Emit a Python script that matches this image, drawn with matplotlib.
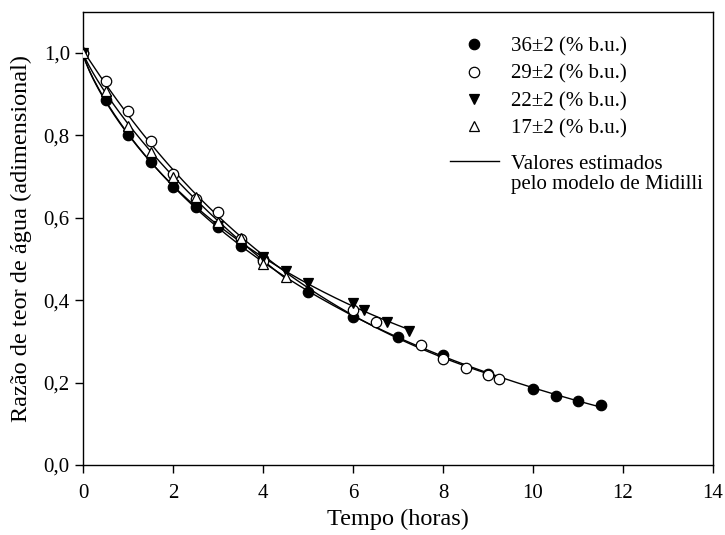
import numpy as np
import matplotlib
matplotlib.use('Agg')
import matplotlib.pyplot as plt
from matplotlib.lines import Line2D
from matplotlib.ticker import FuncFormatter

plt.rcParams['font.family'] = ['Liberation Serif', 'DejaVu Serif']

# Drying data (moisture ratio vs time in hours)
t_36 = [0, 0.5, 1, 1.5, 2, 2.5, 3, 3.5, 4, 5, 6, 7, 8, 9, 10, 10.5, 11, 11.5]
mr_36 = [1.0, 0.885, 0.800, 0.735, 0.675, 0.625, 0.578, 0.532, 0.500, 0.420,
         0.358, 0.311, 0.268, 0.220, 0.184, 0.167, 0.155, 0.146]

t_29 = [0, 0.5, 1, 1.5, 2, 2.5, 3, 3.5, 4, 6, 6.5, 7.5, 8, 8.5, 9, 9.25]
mr_29 = [1.0, 0.933, 0.859, 0.787, 0.705, 0.645, 0.613, 0.548, 0.495,
         0.376, 0.348, 0.291, 0.256, 0.235, 0.218, 0.208]

t_22 = [0, 0.5, 1, 1.5, 2, 2.5, 3, 3.5, 4, 4.5, 5, 6, 6.25, 6.75, 7.25]
mr_22 = [1.0, 0.886, 0.800, 0.735, 0.680, 0.627, 0.580, 0.535, 0.505, 0.470,
         0.441, 0.392, 0.375, 0.348, 0.325]

t_17 = [0, 0.5, 1, 1.5, 2, 2.5, 3, 3.5, 4, 4.5]
mr_17 = [1.0, 0.908, 0.823, 0.760, 0.700, 0.650, 0.590, 0.551, 0.487, 0.455]

labels = ['36\u00b12 (% b.u.)', '29\u00b12 (% b.u.)',
          '22\u00b12 (% b.u.)', '17\u00b12 (% b.u.)']


def midilli(t, a, k, n, b):
    return a * np.exp(-k * t ** n) + b * t


def fit_midilli(t, mr):
    # grid over k, n with linear least squares for a and b
    t = np.asarray(t, float)
    mr = np.asarray(mr, float)
    best = None
    for n in np.linspace(0.5, 1.5, 101):
        tn = t ** n
        for k in np.linspace(0.01, 1.0, 199):
            X = np.column_stack([np.exp(-k * tn), t])
            coef, *_ = np.linalg.lstsq(X, mr, rcond=None)
            sse = np.sum((X @ coef - mr) ** 2)
            if best is None or sse < best[0]:
                best = (sse, coef[0], k, n, coef[1])
    return best[1:]


series = [(t_36, mr_36, dict(marker='o', mfc='black')),
          (t_29, mr_29, dict(marker='o', mfc='white')),
          (t_22, mr_22, dict(marker='v', mfc='black')),
          (t_17, mr_17, dict(marker='^', mfc='white'))]

fig = plt.figure(figsize=(7.25, 5.35), dpi=100)
ax = fig.add_axes([0.1145, 0.131, 0.869, 0.847])

handles = []
for (t, mr, st), lab in zip(series, labels):
    a, k, n, b = fit_midilli(t, mr)
    tt = np.linspace(0, max(t), 200)
    ax.plot(tt, midilli(tt, a, k, n, b), color='black', lw=1.0, zorder=2)
for (t, mr, st), lab in zip(series, labels):
    h, = ax.plot(t, mr, linestyle='none', mec='black', mew=0.9, ms=7.5,
                 color='black', zorder=3, label=lab, **st)
    handles.append(h)

ax.set_xlim(0, 14)
ax.set_ylim(0, 1.1)
ax.set_xticks(np.arange(0, 15, 2))
ax.set_yticks(np.arange(0, 1.01, 0.2))
ax.yaxis.set_major_formatter(FuncFormatter(lambda v, p: f'{v:.1f}'.replace('.', ',')))
ax.tick_params(direction='out', length=6, width=1, labelsize=15, top=False, right=False)
ax.tick_params(axis='x', pad=8)
for s in ax.spines.values():
    s.set_linewidth(1)

ax.set_xlabel('Tempo (horas)', fontsize=17.5, labelpad=4)
ax.set_ylabel('Razão de teor de água (adimensional)', fontsize=17.5, labelpad=8)

leg_kw = dict(loc='upper left', frameon=False, fontsize=15, borderpad=0,
              handlelength=2.35, handletextpad=0.58, borderaxespad=0,
              bbox_transform=fig.transFigure)
leg1 = ax.legend(handles=handles, bbox_to_anchor=(450 / 725, 1 - 37 / 535),
                 labelspacing=0.37, **leg_kw)
ax.add_artist(leg1)
model_handles = [Line2D([], [], color='black', lw=1.0), Line2D([], [], color='none')]
ax.legend(handles=model_handles, labels=['Valores estimados', 'pelo modelo de Midilli'],
          bbox_to_anchor=(450 / 725, 1 - 154 / 535), labelspacing=0.05, **leg_kw)

fig.savefig('out.png', dpi=100)
